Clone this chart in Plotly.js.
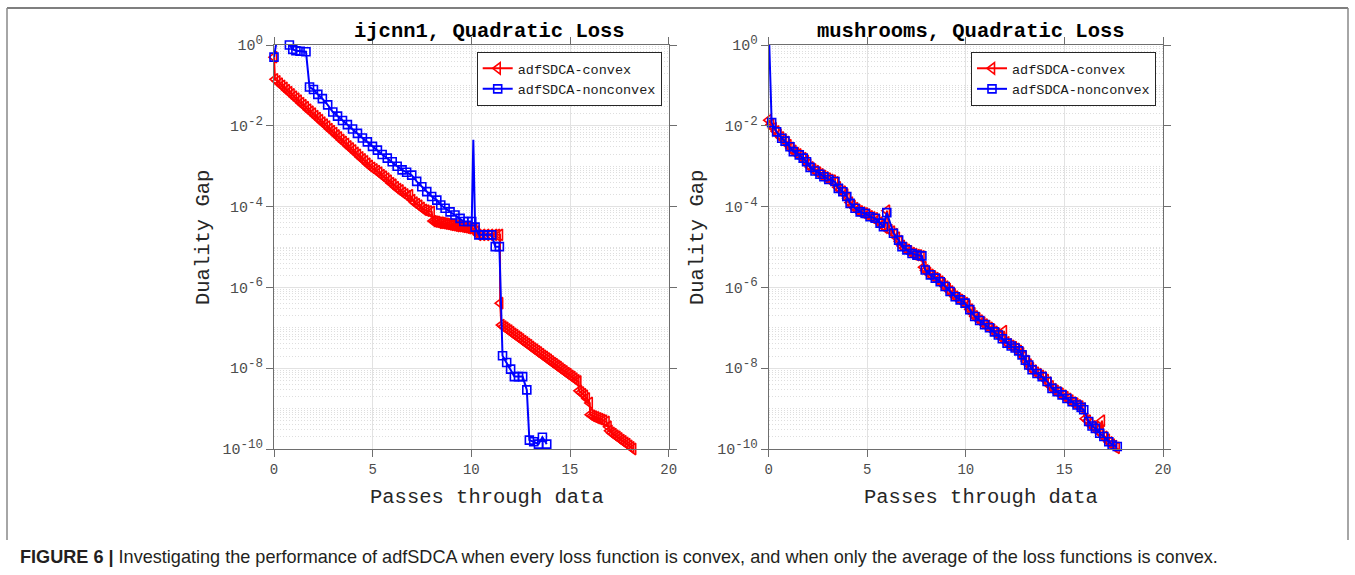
<!DOCTYPE html>
<html>
<head>
<meta charset="utf-8">
<script src="https://cdn.plot.ly/plotly-3.0.1.min.js"></script>
<style>
html,body{margin:0;padding:0;background:#fff;}
#chart{width:1355px;height:575px;}
</style>
</head>
<body>
<div id="chart"></div>
<script>
// ---------------- data ----------------
const seriesNames = ['adfSDCA-convex', 'adfSDCA-nonconvex'];
const panelTitles = ['ijcnn1, Quadratic Loss', 'mushrooms, Quadratic Loss'];
const xAxisLabel = 'Passes through data';
const yAxisLabel = 'Duality Gap';
const xTickVals = [0, 5, 10, 15, 20];
const xTickText = ['0', '5', '10', '15', '20'];
const yTickVals = [1e-10, 1e-8, 1e-6, 1e-4, 1e-2, 1];
const yTickExponents = ['-10', '-8', '-6', '-4', '-2', '0'];
const caption = '<b>FIGURE 6 |</b> Investigating the performance of adfSDCA when every loss function is convex, and when only the average of the loss functions is convex.';

// ijcnn1 – convex
const ijcnnConvexX = [0, 0.05, 0.17, 0.29, 0.41, 0.53, 0.65, 0.77, 0.89, 1.01, 1.13, 1.25, 1.37, 1.49, 1.61, 1.73, 1.85, 1.97, 2.09, 2.21, 2.33, 2.45, 2.57, 2.69, 2.81, 2.93, 3.05, 3.17, 3.29, 3.41, 3.53, 3.65, 3.77, 3.89, 4.01, 4.13, 4.25, 4.37, 4.49, 4.61, 4.73, 4.85, 4.97,
  5.09, 5.21, 5.33, 5.45, 5.57, 5.69, 5.81, 5.93, 6.05, 6.17, 6.29, 6.41, 6.53, 6.65, 6.77, 6.89,
  7.00, 7.12, 7.24, 7.36, 7.48, 7.60, 7.72, 7.85, 7.99, 8.05,
  8.15, 8.25, 8.35, 8.45, 8.55, 8.65, 8.75, 8.85, 8.95, 9.05, 9.15, 9.25, 9.35, 9.45, 9.55, 9.65, 9.75, 9.85, 9.95, 10.05, 10.15, 10.25, 10.35,
  10.55, 10.75, 10.95, 11.15, 11.30, 11.45, 11.46, 11.52,
  11.62, 11.72, 11.82, 11.92, 12.02, 12.12, 12.22, 12.32, 12.42, 12.52, 12.62, 12.72, 12.82, 12.92, 13.02, 13.12, 13.22, 13.32, 13.42, 13.52, 13.62, 13.72, 13.82, 13.92, 14.02, 14.12, 14.22, 14.32, 14.42, 14.52, 14.62, 14.72, 14.82, 14.92, 15.02, 15.12, 15.22, 15.32, 15.42,
  15.45, 15.55, 15.65, 15.75, 15.85, 16.00,
  16.02, 16.12, 16.22, 16.32, 16.42, 16.52, 16.62, 16.72, 16.85, 16.95,
  17.00, 17.10, 17.20, 17.30, 17.40, 17.50, 17.60, 17.70, 17.80, 17.90, 18.00, 18.10, 18.20];
const ijcnnConvexY = [5.0e-1, 1.41e-1, 1.26e-1, 1.10e-1, 9.77e-2, 8.71e-2, 7.59e-2, 6.76e-2, 6.03e-2, 5.25e-2, 4.68e-2, 4.17e-2, 3.63e-2, 3.24e-2, 2.88e-2, 2.51e-2, 2.24e-2, 2.00e-2, 1.74e-2, 1.55e-2, 1.38e-2, 1.20e-2, 1.07e-2, 9.55e-3, 8.32e-3, 7.41e-3, 6.61e-3, 5.75e-3, 5.13e-3, 4.47e-3, 3.98e-3, 3.55e-3, 3.09e-3, 2.75e-3, 2.45e-3, 2.14e-3, 1.91e-3, 1.66e-3, 1.48e-3, 1.32e-3, 1.15e-3, 1.02e-3, 9.12e-4,
  8.32e-4, 7.59e-4, 6.92e-4, 6.03e-4, 5.50e-4, 4.90e-4, 4.37e-4, 3.80e-4, 3.47e-4, 3.02e-4, 2.69e-4, 2.51e-4, 2.19e-4, 2.00e-4, 1.82e-4, 1.91e-4,
  1.45e-4, 1.26e-4, 1.15e-4, 1.05e-4, 9.33e-5, 8.32e-5, 7.94e-5, 7.59e-5, 7.41e-5, 4.37e-5,
  4.27e-5, 4.17e-5, 3.98e-5, 3.98e-5, 3.89e-5, 3.80e-5, 3.72e-5, 3.63e-5, 3.55e-5, 3.47e-5, 3.39e-5, 3.31e-5, 3.31e-5, 3.24e-5, 3.16e-5, 3.09e-5, 3.02e-5, 2.95e-5, 2.95e-5, 2.88e-5, 2.82e-5, 2.40e-5, 2.00e-5,
  2.00e-5, 2.00e-5, 2.00e-5, 2.00e-5, 2.00e-5, 2.00e-5, 4.07e-7, 1.17e-7,
  1.07e-7, 1.00e-7, 9.12e-8, 8.51e-8, 7.76e-8, 7.08e-8, 6.61e-8, 6.03e-8, 5.62e-8, 5.13e-8, 4.68e-8, 4.37e-8, 3.98e-8, 3.72e-8, 3.39e-8, 3.09e-8, 2.88e-8, 2.63e-8, 2.45e-8, 2.24e-8, 2.04e-8, 1.91e-8, 1.74e-8, 1.62e-8, 1.48e-8, 1.35e-8, 1.26e-8, 1.15e-8, 1.07e-8, 9.77e-9, 8.91e-9, 8.32e-9, 7.59e-9, 7.08e-9, 6.46e-9, 6.03e-9, 5.50e-9, 5.01e-9, 4.68e-9,
  2.75e-9, 2.51e-9, 2.29e-9, 2.09e-9, 1.78e-9, 1.38e-9,
  7.08e-10, 6.61e-10, 6.31e-10, 6.03e-10, 5.75e-10, 5.50e-10, 5.25e-10, 5.01e-10, 4.68e-10, 3.55e-10,
  2.82e-10, 2.51e-10, 2.34e-10, 2.14e-10, 2.00e-10, 1.82e-10, 1.66e-10, 1.55e-10, 1.41e-10, 1.32e-10, 1.20e-10, 1.10e-10, 1.00e-10];

// ijcnn1 – nonconvex
const ijcnnNonconvexX = [0, 0.25, 0.78, 0.95, 1.11, 1.32, 1.62, 1.80, 2.00, 2.22, 2.45, 2.72, 2.98, 3.22, 3.47, 3.72, 3.98, 4.23, 4.48, 4.73, 4.99, 5.24, 5.48, 5.74, 5.99, 6.24, 6.49, 6.72, 6.98, 7.23, 7.49, 7.74, 7.99, 8.25, 8.45, 8.67, 8.92, 9.17, 9.43, 9.62, 9.82, 10.02, 10.10, 10.19, 10.38, 10.61, 10.84, 11.03, 11.21, 11.42, 11.58, 11.79, 11.99, 12.18, 12.39, 12.60, 12.81, 12.94, 13.16, 13.40, 13.60, 13.82];
const ijcnnNonconvexY = [5.0e-1, 2.8, 1.0, 7.8e-1, 7.2e-1, 7.0e-1, 6.8e-1, 9.1e-2, 7.9e-2, 6.0e-2, 4.7e-2, 3.3e-2, 2.2e-2, 1.74e-2, 1.35e-2, 1.07e-2, 8.3e-3, 6.5e-3, 5.0e-3, 4.0e-3, 3.1e-3, 2.5e-3, 1.95e-3, 1.58e-3, 1.29e-3, 1.0e-3, 8.1e-4, 7.1e-4, 6.0e-4, 4.2e-4, 3.1e-4, 2.35e-4, 1.78e-4, 1.45e-4, 1.1e-4, 9.1e-5, 7.4e-5, 6.2e-5, 5.1e-5, 4.27e-5, 4.27e-5, 4.27e-5, 4.5e-3, 3.1e-5, 2.0e-5, 2.0e-5, 2.0e-5, 2.0e-5, 1.02e-5, 1.02e-5, 2.04e-8, 1.38e-8, 9.5e-9, 6.2e-9, 6.2e-9, 6.2e-9, 2.9e-9, 1.66e-10, 1.51e-10, 1.32e-10, 1.95e-10, 1.32e-10];
const ijcnnNonconvexUnmarkedX = [0.25, 10.10];

// mushrooms – convex
const mushConvexX = [0.00, 0.12, 0.25, 0.38, 0.50, 0.62, 0.75, 0.88, 1.00, 1.12, 1.25, 1.38, 1.50, 1.62, 1.75, 1.88, 2.00, 2.12, 2.25, 2.38, 2.50, 2.62, 2.75, 2.88, 3.00, 3.12, 3.25, 3.38, 3.50, 3.62, 3.75, 3.88, 4.00, 4.12, 4.25, 4.38, 4.50, 4.62, 4.75, 4.88, 5.00, 5.12, 5.25, 5.38, 5.50, 5.62, 5.75, 5.88, 6.00, 6.12, 6.25, 6.38, 6.50, 6.62, 6.75, 6.88, 7.00, 7.12, 7.25, 7.38, 7.50, 7.62, 7.75, 7.85, 7.95, 8.08, 8.20, 8.33, 8.45, 8.58, 8.70, 8.83, 8.95, 9.08, 9.20, 9.33, 9.45, 9.58, 9.70, 9.83, 9.95, 10.08, 10.20, 10.33, 10.45, 10.58, 10.70, 10.83, 10.95, 11.08, 11.20, 11.33, 11.45, 11.58, 11.70, 11.83, 11.93, 12.05, 12.18, 12.30, 12.43, 12.55, 12.68, 12.80, 12.93, 13.05, 13.18, 13.30, 13.43, 13.55, 13.68, 13.80, 13.93, 14.05, 14.18, 14.30, 14.43, 14.55, 14.68, 14.80, 14.93, 15.05, 15.18, 15.30, 15.43, 15.55, 15.68, 15.80, 15.93, 16.05, 16.18, 16.30, 16.43, 16.55, 16.68, 16.80, 16.90, 17.02, 17.15, 17.28, 17.40, 17.52, 17.65, 17.76];
const mushConvexY = [1.38e-2, 1.07e-2, 8.71e-3, 7.24e-3, 6.03e-3, 5.13e-3, 4.57e-3, 3.98e-3, 3.31e-3, 2.82e-3, 2.40e-3, 2.09e-3, 1.95e-3, 1.78e-3, 1.58e-3, 1.35e-3, 1.10e-3, 9.33e-4, 8.32e-4, 7.59e-4, 6.92e-4, 6.31e-4, 5.75e-4, 5.25e-4, 4.90e-4, 4.57e-4, 4.37e-4, 3.98e-4, 3.02e-4, 2.57e-4, 2.34e-4, 2.00e-4, 1.62e-4, 1.26e-4, 1.05e-4, 9.12e-5, 8.13e-5, 7.59e-5, 7.08e-5, 6.76e-5, 6.31e-5, 5.75e-5, 5.37e-5, 5.13e-5, 4.57e-5, 3.98e-5, 3.47e-5, 3.02e-5, 7.94e-5, 2.63e-5, 2.40e-5, 2.09e-5, 1.70e-5, 1.38e-5, 1.07e-5, 9.33e-6, 8.51e-6, 7.76e-6, 7.08e-6, 6.61e-6, 6.31e-6, 6.17e-6, 5.89e-6, 3.16e-6, 2.63e-6, 2.29e-6, 2.04e-6, 1.86e-6, 1.70e-6, 1.55e-6, 1.38e-6, 1.20e-6, 1.05e-6, 9.12e-7, 7.94e-7, 6.76e-7, 5.89e-7, 5.37e-7, 4.90e-7, 4.47e-7, 4.07e-7, 3.47e-7, 2.82e-7, 2.29e-7, 1.91e-7, 1.70e-7, 1.51e-7, 1.35e-7, 1.20e-7, 1.10e-7, 1.00e-7, 8.91e-8, 7.94e-8, 7.08e-8, 6.31e-8, 5.50e-8, 8.32e-8, 4.37e-8, 3.89e-8, 3.55e-8, 3.31e-8, 3.02e-8, 2.69e-8, 2.34e-8, 1.91e-8, 1.51e-8, 1.23e-8, 1.00e-8, 8.71e-9, 7.76e-9, 7.08e-9, 6.46e-9, 5.89e-9, 5.13e-9, 4.37e-9, 3.55e-9, 3.02e-9, 2.75e-9, 2.51e-9, 2.34e-9, 2.09e-9, 1.91e-9, 1.74e-9, 1.58e-9, 1.41e-9, 1.32e-9, 1.20e-9, 1.12e-9, 1.00e-9, 5.62e-10, 5.01e-10, 4.17e-10, 3.63e-10, 3.31e-10, 2.88e-10, 2.51e-10, 5.01e-10, 2.00e-10, 1.70e-10, 1.45e-10, 1.29e-10, 1.17e-10, 1.07e-10, 9.55e-11];

// mushrooms – nonconvex
const mushNonconvexX = [0, 0.15, 0.40, 0.66, 0.83, 1.08, 1.25, 1.55, 1.75, 1.92, 2.10, 2.35, 2.60, 2.80, 3.05, 3.36, 3.53, 3.76, 3.96, 4.13, 4.38, 4.64, 4.89, 5.14, 5.40, 5.65, 5.82, 5.99, 6.33, 6.59, 6.76, 7.01, 7.27, 7.52, 7.77, 7.94, 8.20, 8.45, 8.70, 8.95, 9.20, 9.46, 9.71, 9.96, 10.20, 10.45, 10.70, 10.95, 11.20, 11.45, 11.65, 11.85, 12.09, 12.30, 12.50, 12.68, 12.85, 13.02, 13.19, 13.36, 13.61, 13.87, 14.12, 14.37, 14.63, 14.88, 15.13, 15.39, 15.64, 15.85, 15.98, 16.23, 16.40, 16.57, 16.79, 17.00, 17.25, 17.42, 17.68];
const mushNonconvexY = [3.0, 1.20e-2, 7.08e-3, 4.90e-3, 4.17e-3, 3.02e-3, 2.29e-3, 1.91e-3, 1.58e-3, 1.29e-3, 9.33e-4, 7.59e-4, 6.31e-4, 5.50e-4, 4.68e-4, 4.17e-4, 2.82e-4, 2.34e-4, 1.78e-4, 1.20e-4, 9.12e-5, 7.41e-5, 6.76e-5, 5.62e-5, 5.13e-5, 3.89e-5, 3.16e-5, 7.08e-5, 2.19e-5, 1.48e-5, 1.02e-5, 8.51e-6, 6.92e-6, 6.31e-6, 6.03e-6, 2.69e-6, 2.04e-6, 1.70e-6, 1.38e-6, 1.05e-6, 7.94e-7, 5.89e-7, 4.90e-7, 4.07e-7, 2.82e-7, 1.91e-7, 1.51e-7, 1.20e-7, 1.00e-7, 7.94e-8, 6.61e-8, 5.37e-8, 4.17e-8, 3.55e-8, 3.16e-8, 2.69e-8, 2.14e-8, 1.58e-8, 1.20e-8, 9.12e-9, 7.41e-9, 6.17e-9, 4.68e-9, 3.16e-9, 2.63e-9, 2.19e-9, 1.78e-9, 1.48e-9, 1.23e-9, 1.07e-9, 9.33e-10, 4.79e-10, 3.72e-10, 3.24e-10, 2.45e-10, 2.04e-10, 1.51e-10, 1.26e-10, 1.15e-10];
const mushNonconvexUnmarkedX = [0];

// ---------------- styling & layout ----------------
const W = 1355, H = 575;
const px = v => v / W;
const py = v => 1 - v / H;
const RED = '#ff0000', BLUE = '#0000ff';
const MONO = 'Liberation Mono, Courier New, monospace';
const yTickText = yTickExponents.map(e => '10<sup><span style="font-size:12.5px">' + e + '</span></sup>');

function series(x, y, unmarked, color, symbol, size, xa, ya, name, legendId) {
  const mx = [], my = [];
  x.forEach((v, i) => { if (!unmarked.includes(v)) { mx.push(v); my.push(y[i]); } });
  const marker = {symbol: symbol, size: size, color: color, line: {color: color, width: 1.6}};
  return [
    {type: 'scatter', x: x, y: y, xaxis: xa, yaxis: ya, mode: 'lines', line: {color: color, width: 2}, showlegend: false, hoverinfo: 'skip'},
    {type: 'scatter', x: mx, y: my, xaxis: xa, yaxis: ya, mode: 'markers', marker: marker, cliponaxis: false, showlegend: false, hoverinfo: 'skip'},
    {type: 'scatter', x: [null], y: [null], xaxis: xa, yaxis: ya, mode: 'lines+markers', name: name, legend: legendId, line: {color: color, width: 2}, marker: marker}
  ];
}

const data = [].concat(
  series(ijcnnConvexX, ijcnnConvexY, [], RED, 'triangle-left-open', 10, 'x', 'y', seriesNames[0], 'legend'),
  series(ijcnnNonconvexX, ijcnnNonconvexY, ijcnnNonconvexUnmarkedX, BLUE, 'square-open', 8, 'x', 'y', seriesNames[1], 'legend'),
  series(mushConvexX, mushConvexY, [], RED, 'triangle-left-open', 10, 'x2', 'y2', seriesNames[0], 'legend2'),
  series(mushNonconvexX, mushNonconvexY, mushNonconvexUnmarkedX, BLUE, 'square-open', 8, 'x2', 'y2', seriesNames[1], 'legend2')
);

const AX_COLOR = '#6e6e6e';
function xAxis(domain, anchor) {
  return {
    domain: domain, anchor: anchor, range: [0, 20], tickmode: 'array', tickvals: xTickVals, ticktext: xTickText,
    showgrid: true, gridcolor: '#e2e2e2', gridwidth: 1, zeroline: false,
    showline: true, linecolor: AX_COLOR, linewidth: 1, mirror: 'ticks',
    ticks: 'outside', ticklen: 7, tickcolor: AX_COLOR, tickwidth: 1,
    tickfont: {family: MONO, size: 14, color: '#4d4d4d'}, fixedrange: true
  };
}
function yAxis(domain, anchor) {
  return {
    domain: domain, anchor: anchor, type: 'log', range: [-10, 0], tickmode: 'array', tickvals: yTickVals, ticktext: yTickText,
    showgrid: true, gridcolor: '#e2e2e2', gridwidth: 1, zeroline: false,
    showline: true, linecolor: AX_COLOR, linewidth: 1, mirror: 'ticks',
    ticks: 'outside', ticklen: 7, tickcolor: AX_COLOR, tickwidth: 1,
    minor: {dtick: 'D1', showgrid: true, gridcolor: '#dedede', griddash: '1px,2px', gridwidth: 1, ticks: ''},
    tickfont: {family: MONO, size: 15, color: '#4d4d4d'}, fixedrange: true
  };
}

const yDom = [py(449), py(45)];
const leftDom = [px(274), px(668.7)];
const rightDom = [px(768.7), px(1163)];

function legendBox(xRight) {
  return {
    x: px(xRight), y: py(52), xanchor: 'right', yanchor: 'top',
    bgcolor: '#ffffff', bordercolor: '#262626', borderwidth: 1,
    font: {family: MONO, size: 13.5, color: '#1a1a1a'},
    itemwidth: 30, tracegroupgap: 0, traceorder: 'normal'
  };
}

const textFont = {family: MONO, size: 20.5, color: '#262626'};
const annotations = [
  {xref: 'paper', yref: 'paper', x: px(489), y: py(31), xanchor: 'center', yanchor: 'middle', showarrow: false, text: '<b>' + panelTitles[0] + '</b>', font: {family: MONO, size: 20.5, color: '#000'}},
  {xref: 'paper', yref: 'paper', x: px(971), y: py(31), xanchor: 'center', yanchor: 'middle', showarrow: false, text: '<b>' + panelTitles[1] + '</b>', font: {family: MONO, size: 20.5, color: '#000'}},
  {xref: 'paper', yref: 'paper', x: px(487), y: py(497), xanchor: 'center', yanchor: 'middle', showarrow: false, text: xAxisLabel, font: textFont},
  {xref: 'paper', yref: 'paper', x: px(981), y: py(497), xanchor: 'center', yanchor: 'middle', showarrow: false, text: xAxisLabel, font: textFont},
  {xref: 'paper', yref: 'paper', x: px(203), y: py(238), xanchor: 'center', yanchor: 'middle', showarrow: false, textangle: -90, text: yAxisLabel, font: textFont},
  {xref: 'paper', yref: 'paper', x: px(697), y: py(238), xanchor: 'center', yanchor: 'middle', showarrow: false, textangle: -90, text: yAxisLabel, font: textFont},
  {xref: 'paper', yref: 'paper', x: px(18), y: py(557), xanchor: 'left', yanchor: 'middle', showarrow: false, text: caption, font: {family: 'Liberation Sans, Arial, sans-serif', size: 18.1, color: '#231f20'}}
];

const shapes = [
  {type: 'line', xref: 'paper', yref: 'paper', x0: px(7), x1: px(1348), y0: py(8), y1: py(8), line: {color: '#555', width: 1.5}},
  {type: 'line', xref: 'paper', yref: 'paper', x0: px(7), x1: px(7), y0: py(8), y1: py(540), line: {color: '#888', width: 1.5}},
  {type: 'line', xref: 'paper', yref: 'paper', x0: px(1348), x1: px(1348), y0: py(8), y1: py(540), line: {color: '#888', width: 1.5}}
];

const layout = {
  width: W, height: H,
  margin: {l: 0, r: 0, t: 0, b: 0, pad: 0},
  paper_bgcolor: '#ffffff', plot_bgcolor: '#ffffff',
  showlegend: true,
  xaxis: xAxis(leftDom, 'y'),
  yaxis: yAxis(yDom, 'x'),
  xaxis2: xAxis(rightDom, 'y2'),
  yaxis2: yAxis(yDom, 'x2'),
  legend: legendBox(661.7),
  legend2: legendBox(1156),
  annotations: annotations,
  shapes: shapes,
  hovermode: false
};

Plotly.newPlot('chart', data, layout, {staticPlot: true, displayModeBar: false});
</script>
</body>
</html>
